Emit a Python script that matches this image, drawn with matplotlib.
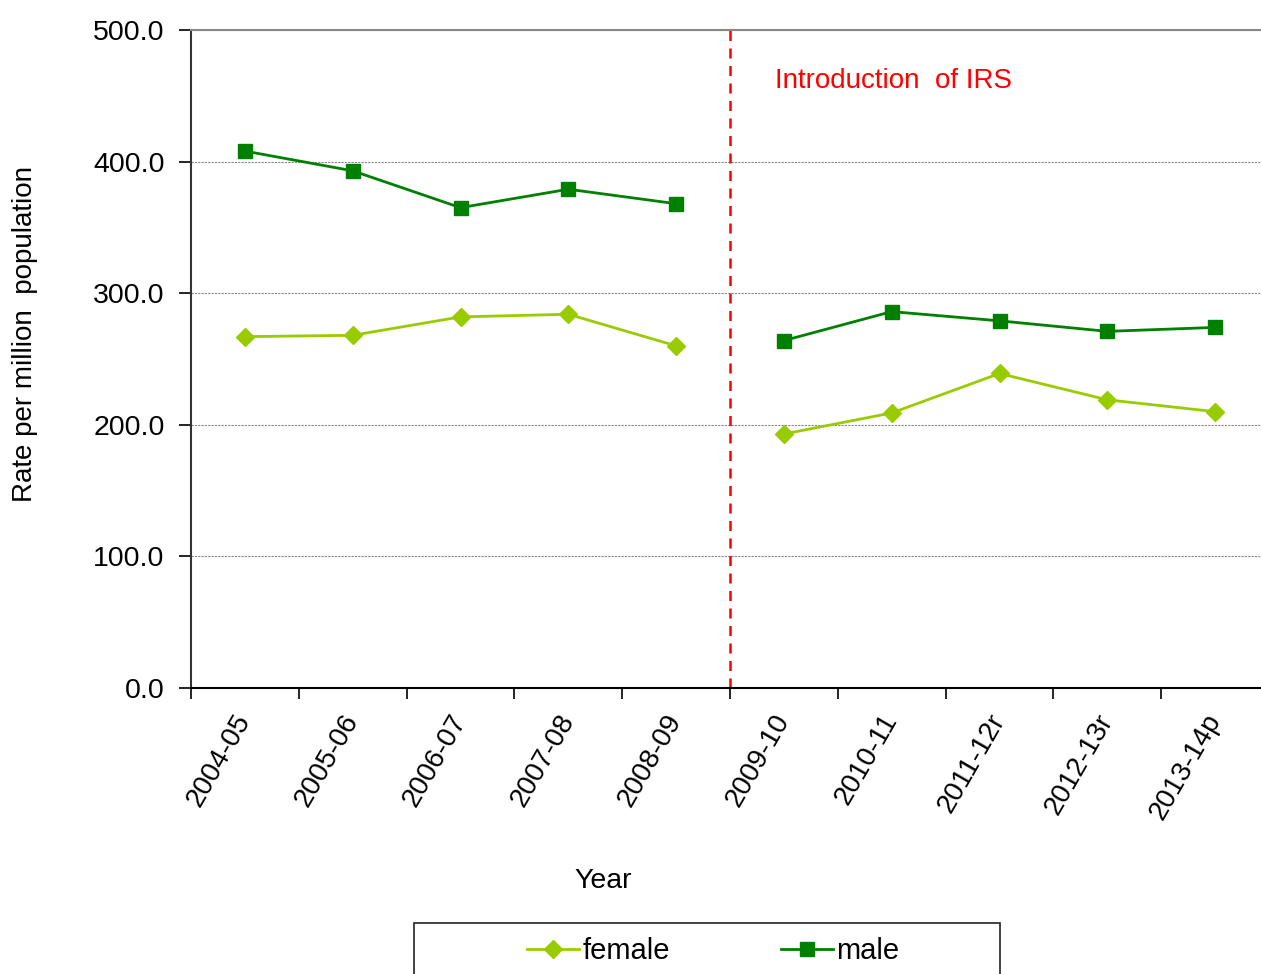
import numpy as np
import matplotlib.pyplot as plt
from matplotlib.patches import Rectangle

plt.rcParams['font.family'] = ['Liberation Sans', 'DejaVu Sans']

years = ['2004-05', '2005-06', '2006-07', '2007-08', '2008-09',
         '2009-10', '2010-11', '2011-12r', '2012-13r', '2013-14p']
female = [267, 268, 282, 284, 260, 193, 209, 239, 219, 210]
male = [408, 393, 365, 379, 368, 264, 286, 279, 271, 274]
break_after = 4  # series are not joined across the IRS change

fig = plt.figure(figsize=(12.61, 9.74), dpi=100)
ax = fig.add_axes([191 / 1261, 1 - 688 / 974, 1078 / 1261, 658 / 974])

x = np.arange(len(years))
for vals, col, mk, ms, lab in [(female, '#99cc00', 'D', 9.5, 'female'),
                               (male, '#008000', 's', 10.5, 'male')]:
    v = np.array(vals, dtype=float)
    xs = np.insert(x.astype(float), break_after + 1, np.nan)
    ys = np.insert(v, break_after + 1, np.nan)
    ax.plot(xs, ys, color=col, marker=mk, markersize=ms, linewidth=2, label=lab)

ax.axvline(break_after + 0.5, color='red', linestyle=(0, (4, 3)), linewidth=1.8)
ax.text(break_after + 0.92, 461, 'Introduction  of IRS', color='red', fontsize=20,
        va='center', ha='left')

ax.set_xlim(-0.5, len(years) - 0.5)
ax.set_ylim(0, 500)
ax.set_yticks(np.arange(0, 501, 100))
ax.set_yticklabels(['%.1f' % t for t in np.arange(0, 501, 100)], fontsize=20.5)
ax.yaxis.grid(True, color='#888888', linestyle=(0, (2, 1)), linewidth=0.8)
ax.set_axisbelow(True)

ax.set_xticks(x)
ax.set_xticklabels(years, rotation=60, ha='right', va='center', rotation_mode='anchor',
                   fontsize=20)
ax.tick_params(axis='x', which='major', length=0, pad=20)
ax.set_xticks(np.arange(-0.5, len(years), 1.0), minor=True)
ax.tick_params(axis='x', which='minor', length=8, width=1.2, direction='out')
ax.tick_params(axis='y', length=9, width=1.2, direction='out', pad=10)

ax.spines['right'].set_visible(False)
ax.spines['top'].set_color('#888888')
ax.spines['top'].set_linewidth(1.5)
ax.spines['left'].set_color('#333333')
ax.spines['left'].set_linewidth(1.5)
ax.spines['bottom'].set_linewidth(1.5)

ax.set_ylabel('Rate per million  population', fontsize=20, va='center')
ax.yaxis.set_label_coords(-0.154, 0.538)
fig.text(603 / 1261, 1 - 881 / 974, 'Year', fontsize=20.5, ha='center', va='center')

fig.patches.append(Rectangle((414 / 1261, -0.02), 586 / 1261, 0.0724,
                             transform=fig.transFigure, facecolor='none',
                             edgecolor='#222222', linewidth=1.2))
fig.legend(loc='center', bbox_to_anchor=(713 / 1261, 1 - 951 / 974), ncol=2,
           frameon=False, fontsize=21, handlelength=1.8, handletextpad=0.1,
           columnspacing=3.8)

fig.savefig('out.png', dpi=100)
